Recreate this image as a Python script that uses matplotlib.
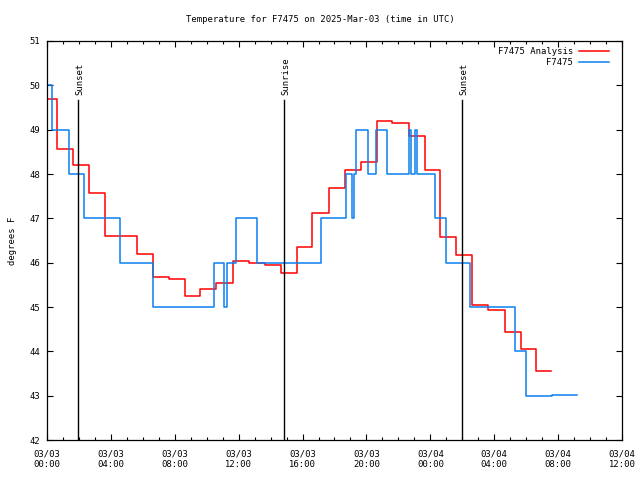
import numpy as np
import matplotlib
matplotlib.use('Agg')
import matplotlib.pyplot as plt

# hours since 03/03 00:00 UTC at which each reading starts
analysis_hours = [0.00, 0.63, 1.63, 2.63, 3.63, 5.64, 6.61, 7.64, 8.64, 9.61,
                  10.61, 11.65, 12.65, 13.68, 14.65, 15.65, 16.62, 17.63, 18.63,
                  19.66, 20.66, 21.63, 22.67, 23.64, 24.58, 25.61, 26.61, 27.64,
                  28.65, 29.68, 30.62, 31.56]
analysis_temp = [49.69, 48.56, 48.20, 47.57, 46.60, 46.20, 45.68, 45.63, 45.25, 45.40,
                 45.54, 46.03, 46.00, 45.95, 45.77, 46.35, 47.12, 47.68, 48.10,
                 48.28, 49.20, 49.15, 48.86, 48.10, 46.58, 46.17, 45.04, 44.93,
                 44.44, 44.05, 43.55, 43.55]

station_hours = [0.00, 0.31, 1.35, 2.29, 4.60, 6.61, 10.46, 11.11, 11.30, 11.83,
                 13.15, 17.16, 18.75, 19.10, 19.22, 19.32, 20.10, 20.60, 21.29,
                 22.64, 22.79, 23.01, 23.17, 24.30, 24.95, 26.49, 29.30, 29.96,
                 31.62, 33.19]
station_temp = [50, 49, 48, 47, 46, 45, 46, 45, 46, 47,
                46, 47, 48, 47, 48, 49, 48, 49, 48,
                49, 48, 49, 48, 47, 46, 45, 44, 43,
                43.02, 43.02]

sun_hours = [1.94, 14.84, 25.99]
sun_labels = ['Sunset', 'Sunrise', 'Sunset']

tick_hours = [0, 4, 8, 12, 16, 20, 24, 28, 32, 36]
tick_labels = ['03/03\n00:00', '03/03\n04:00', '03/03\n08:00', '03/03\n12:00',
               '03/03\n16:00', '03/03\n20:00', '03/04\n00:00', '03/04\n04:00',
               '03/04\n08:00', '03/04\n12:00']

mono = 'DejaVu Sans Mono'
fs = 6.4

fig = plt.figure(figsize=(6.4, 4.8), dpi=100)
ax = fig.add_axes([0.0734, 0.0833, 0.8985, 0.8313])

ax.plot(analysis_hours, analysis_temp, drawstyle='steps-post', color='#ff0000',
        lw=1.1, label='F7475 Analysis')
ax.plot(station_hours, station_temp, drawstyle='steps-post', color='#0a80f0',
        lw=1.1, label='F7475')

for h, lab in zip(sun_hours, sun_labels):
    ax.plot([h, h], [0, 0.852], color='black', lw=1.0,
            transform=ax.get_xaxis_transform())
    ax.text(h + 0.1, 0.865, lab, rotation=90, ha='center', va='bottom',
            fontsize=fs, family=mono, transform=ax.get_xaxis_transform())

ax.set_xlim(0, 36)
ax.set_ylim(42, 51)
ax.set_xticks(tick_hours)
ax.set_xticklabels(tick_labels, family=mono, fontsize=fs)
ax.set_xticks(np.arange(0, 37, 1), minor=True)
ax.set_yticks(np.arange(42, 52, 1))
ax.set_yticklabels([str(v) for v in range(42, 52)], family=mono, fontsize=fs)
ax.tick_params(which='both', direction='in', top=True, right=True, width=0.8)
ax.tick_params(which='major', length=4.5)
ax.tick_params(which='minor', length=2.5)
ax.tick_params(axis='x', which='major', pad=7)
ax.tick_params(axis='y', which='major', pad=5)
for s in ax.spines.values():
    s.set_linewidth(0.9)

ax.set_ylabel('degrees F', family=mono, fontsize=fs, labelpad=9)
fig.text(0.5, 0.96, 'Temperature for F7475 on 2025-Mar-03 (time in UTC)',
         family=mono, fontsize=fs, ha='center', va='center')

leg = ax.legend(loc='upper right', bbox_to_anchor=(0.988, 1.0), frameon=False,
                markerfirst=False, prop={'family': mono, 'size': fs},
                handlelength=3.4, borderaxespad=0.3, labelspacing=0.25,
                handletextpad=0.6)
for t in leg.get_texts():
    t.set_ha('right')

fig.savefig('out.png', dpi=100)
